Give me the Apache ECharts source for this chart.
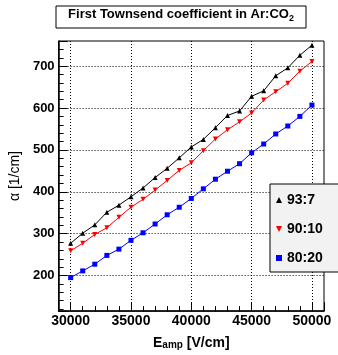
<!DOCTYPE html>
<html><head><meta charset="utf-8">
<script src="https://cdn.jsdelivr.net/npm/echarts@6/dist/echarts.min.js"></script>
<style>html,body{margin:0;padding:0;background:#fff}#c{width:338px;height:355px}</style>
</head><body><div id="c"></div>
<script>
// ---- data ----
const fieldValues = [30000,31000,32000,33000,34000,35000,36000,37000,38000,39000,40000,
                     41000,42000,43000,44000,45000,46000,47000,48000,49000,50000];
const alpha93_7  = [277,301,321,351,368,388,409,434,456,481,507,525,553,582,593,628,641,677,696,726,750];
const alpha90_10 = [259,277,298,314,339,363,382,404,427,451,469,498,526,548,567,588,619,639,659,688,711];
const alpha80_20 = [195,211,227,248,263,284,302,323,345,363,384,407,430,449,467,493,514,538,557,580,607];
const seriesNames = ['93:7','90:10','80:20'];
const xTickLabels = [30000,35000,40000,45000,50000];
const yTickLabels = [200,300,400,500,600,700];

const FONT = '"Liberation Sans", Arial, Helvetica, sans-serif';
const chart = echarts.init(document.getElementById('c'), null, {renderer:'canvas'});

function pairs(vals){ return fieldValues.map((x,i)=>[x, vals[i]]); }

const dotted = {color:'#000', width:1, type:[1,2]};
const xMin = 29000, xMax = 51000, yMin = 115, yMax = 760;

const option = {
  animation:false,
  backgroundColor:'#fff',
  grid:{left:57, right:14, top:41, bottom:31, show:true, borderColor:'#000', borderWidth:1, backgroundColor:'transparent'},
  xAxis:[{
    type:'value', min:xMin, max:xMax, minInterval:5000, maxInterval:5000, position:'bottom',
    axisLine:{show:true, onZero:false, lineStyle:{color:'#000', width:1.5}},
    axisTick:{show:true, inside:true, length:9, lineStyle:{color:'#000'}},
    axisLabel:{margin:3, color:'#000', fontFamily:FONT, fontWeight:'bold', fontSize:14,
      formatter:v=> xTickLabels.includes(v) ? String(v) : ''},
    splitLine:{show:true, showMinLine:false, showMaxLine:false, lineStyle:dotted},
    name:'{e|E}{s|amp}{e| [V/cm]}', nameLocation:'middle', nameGap:14,
    nameTextStyle:{rich:{
      e:{fontFamily:FONT, fontWeight:'bold', fontSize:14, color:'#000', lineHeight:14, verticalAlign:'top'},
      s:{fontFamily:FONT, fontWeight:'bold', fontSize:10, color:'#000', lineHeight:10, padding:[7,0,0,0], verticalAlign:'bottom'}
    }}
  },{
    type:'value', min:xMin, max:xMax, minInterval:1000, maxInterval:1000, position:'bottom',
    axisLine:{show:false, onZero:false},
    axisTick:{show:true, inside:true, length:5, lineStyle:{color:'#000'}},
    axisLabel:{show:false}, splitLine:{show:false}
  }],
  yAxis:[{
    type:'value', min:yMin, max:yMax, minInterval:100, maxInterval:100, position:'left',
    axisLine:{show:true, onZero:false, lineStyle:{color:'#000', width:1.5}},
    axisTick:{show:true, inside:true, length:9, lineStyle:{color:'#000'}},
    axisLabel:{margin:4, color:'#000', fontFamily:FONT, fontWeight:'bold', fontSize:13,
      formatter:v=> yTickLabels.includes(v) ? String(v) : ''},
    splitLine:{show:true, showMinLine:false, showMaxLine:false, lineStyle:dotted},
    name:'α [1/cm]', nameLocation:'middle', nameGap:36, nameRotate:90,
    nameTextStyle:{fontFamily:FONT, fontSize:14, color:'#000'}
  },{
    type:'value', min:yMin, max:yMax, minInterval:20, maxInterval:20, position:'left',
    axisLine:{show:false, onZero:false},
    axisTick:{show:true, inside:true, length:5, lineStyle:{color:'#000'}},
    axisLabel:{show:false}, splitLine:{show:false}
  }],
  legend:{
    orient:'vertical', left:270, top:184, padding:[9,40,7,6], itemGap:15,
    backgroundColor:'#f2f2f2', borderColor:'#000', borderWidth:1, z:20,
    itemWidth:6, itemHeight:6,
    textStyle:{fontFamily:FONT, fontWeight:'bold', fontSize:14, color:'#000'},
    data:[
      {name:seriesNames[0], icon:'triangle', itemStyle:{color:'#000'}},
      {name:seriesNames[1], icon:'path://M0,0 L10,0 L5,10 Z', itemStyle:{color:'#ff0000'}},
      {name:seriesNames[2], icon:'rect', itemStyle:{color:'#0000ff'}}
    ]
  },
  graphic:[
    {type:'rect', z:30, shape:{x:56, y:6, width:250, height:22}, style:{fill:'#fff', stroke:'#000', lineWidth:1}},
    {type:'text', z:31, x:181, y:8, style:{
      text:'{a|First Townsend coefficient in Ar:CO}{s|2}', align:'center', verticalAlign:'top',
      rich:{
        a:{fontFamily:FONT, fontWeight:'bold', fontSize:13, fill:'#000', lineHeight:15, verticalAlign:'top'},
        s:{fontFamily:FONT, fontWeight:'bold', fontSize:9, fill:'#000', lineHeight:9, padding:[10,0,0,0], verticalAlign:'bottom'}
      }}}
  ],
  series:[
    {name:seriesNames[0], type:'line', data:pairs(alpha93_7), symbol:'triangle', symbolSize:5,
     lineStyle:{color:'#000', width:1}, itemStyle:{color:'#000'}},
    {name:seriesNames[1], type:'line', data:pairs(alpha90_10), symbol:'triangle', symbolRotate:180, symbolSize:5,
     lineStyle:{color:'#ff0000', width:1}, itemStyle:{color:'#ff0000'}},
    {name:seriesNames[2], type:'line', data:pairs(alpha80_20), symbol:'rect', symbolSize:5,
     lineStyle:{color:'#0000ff', width:1}, itemStyle:{color:'#0000ff'}}
  ]
};
chart.setOption(option);
</script></body></html>
